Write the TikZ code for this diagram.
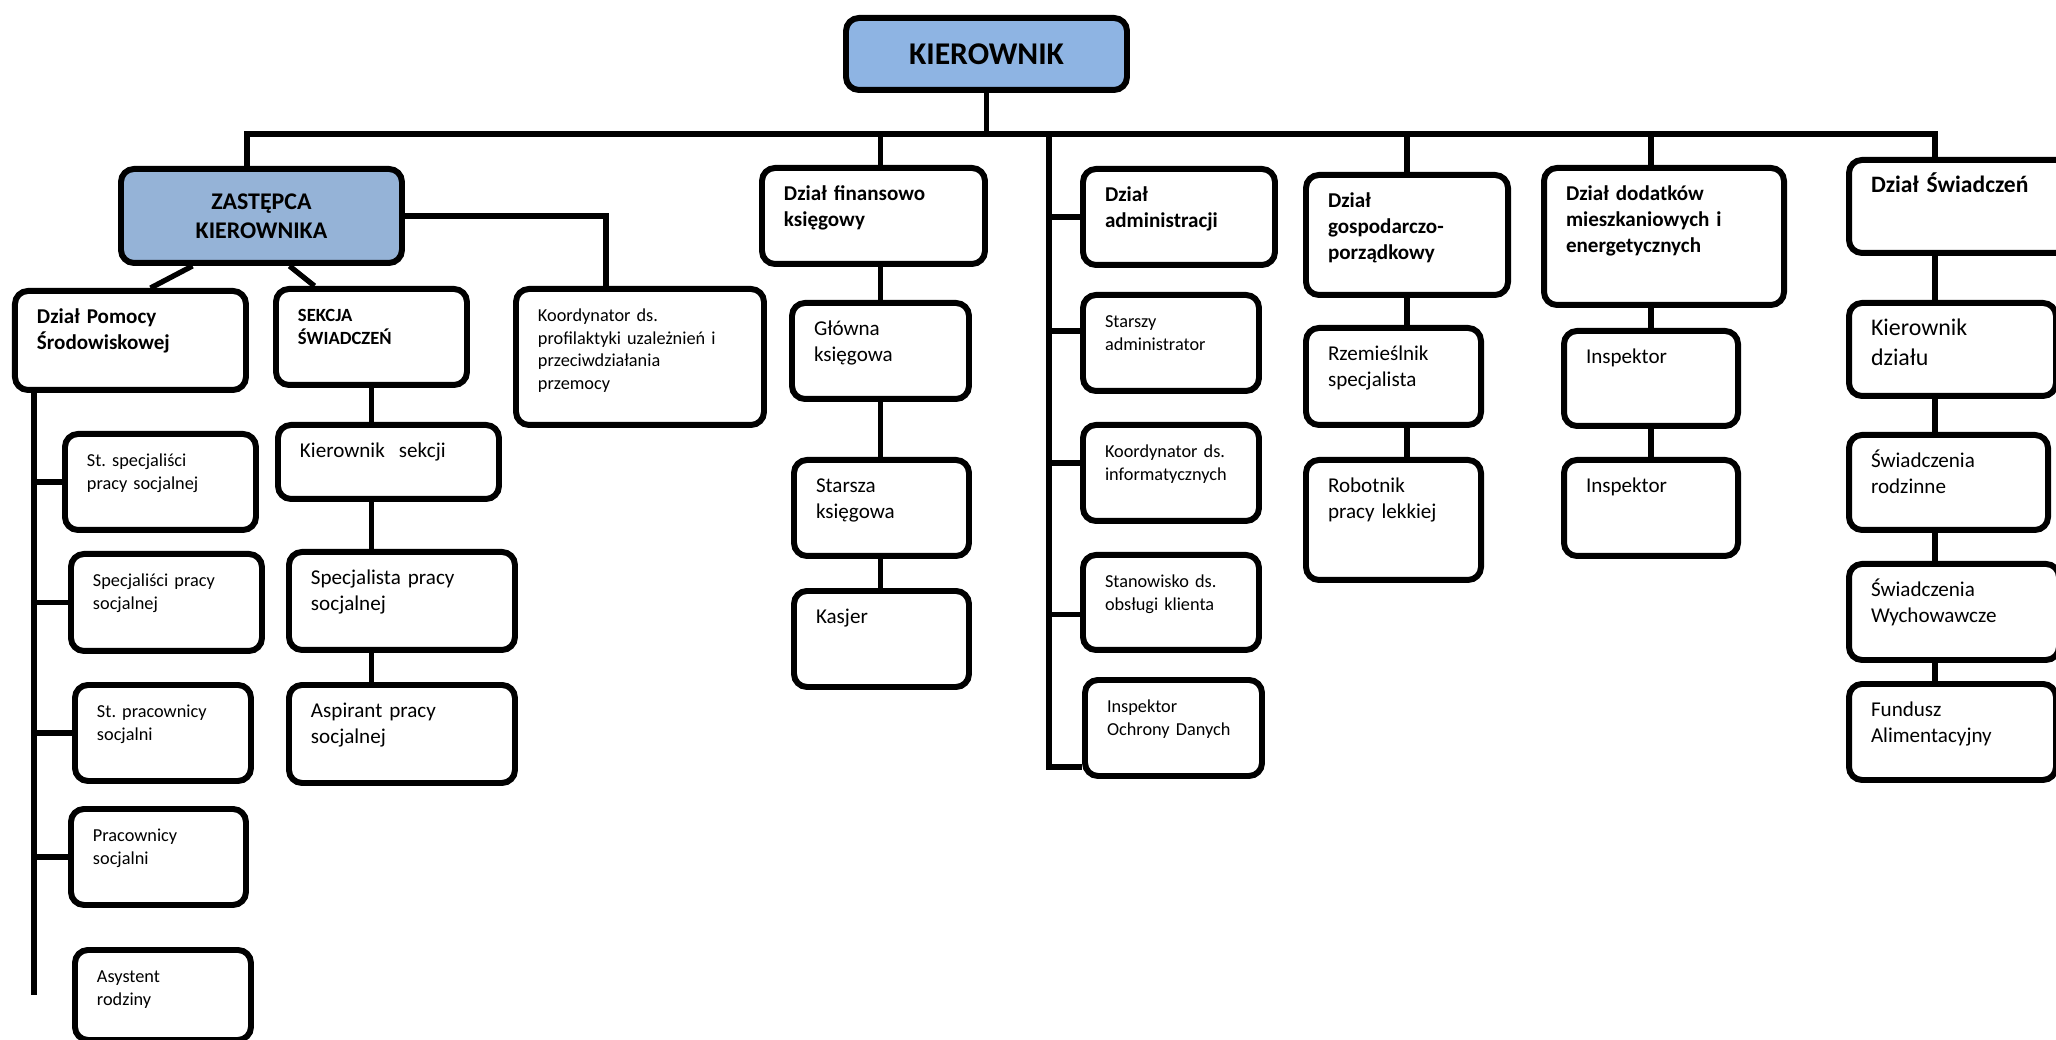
\documentclass[tikz,border=0pt]{standalone}
\usepackage{fontspec}
\setmainfont{Carlito}
\frenchspacing
\usepackage{tikz}
\usetikzlibrary{backgrounds}
\definecolor{kierblue}{RGB}{142,180,227}
\definecolor{zastblue}{RGB}{149,179,215}
\tikzset{
    box/.style={rectangle, draw=black, line width=1.7pt, rounded corners=0.13cm, fill=white, align=left, inner xsep=0.22cm, inner ysep=0.15cm, text height=0.18cm, anchor=north west},
    unit/.style 2 args={box, text width=#1cm-0.44cm, text depth=#2cm-0.48cm},
    chief/.style={rectangle, draw=black, line width=1.7pt, rounded corners=0.13cm, align=center, anchor=north west, inner sep=0pt},
    head/.style={font=\fontsize{6}{7.3}\selectfont\bfseries},
    job/.style={font=\fontsize{6}{7.4}\selectfont},
    small/.style={font=\fontsize{5.2}{6.4}\selectfont},
    link/.style={line width=1.5pt}
}
\begin{document}
\begin{tikzpicture}
    \useasboundingbox (0,0) rectangle (20.56,-10.40);

    % Kierownictwo
    \node (kier) [chief, fill=kierblue, minimum width=2.81cm, minimum height=0.72cm, font=\fontsize{9}{11}\selectfont\bfseries] at (8.43,-0.15) {KIEROWNIK};
    \node (zast) [chief, fill=zastblue, minimum width=2.81cm, minimum height=0.94cm, font=\fontsize{6.8}{8.3}\selectfont\bfseries] at (1.18,-1.66) {ZASTĘPCA\\KIEROWNIKA};

    % Pod zastepca
    \node (dps) [unit={2.31}{0.99}, head] at (0.12,-2.88) {Dział Pomocy\\Środowiskowej};
    \node (sekcja) [unit={1.91}{0.96}, font=\fontsize{5.3}{6.3}\selectfont\bfseries] at (2.73,-2.86) {SEKCJA\\ŚWIADCZEŃ};
    \node (kpu) [unit={2.48}{1.36}, small] at (5.13,-2.86) {Koordynator ds.\\profilaktyki uzależnień i\\przeciwdziałania\\przemocy};

    % Dzial Pomocy Srodowiskowej
    \node (ssp) [unit={1.91}{0.96}, small] at (0.62,-4.31) {St. specjaliści\\pracy socjalnej};
    \node (sp) [unit={1.91}{0.97}, small] at (0.68,-5.51) {Specjaliści pracy\\socjalnej};
    \node (spr) [unit={1.76}{0.96}, small] at (0.72,-6.82) {St. pracownicy\\socjalni};
    \node (pr) [unit={1.75}{0.96}, small] at (0.68,-8.06) {Pracownicy\\socjalni};
    \node (ar) [unit={1.76}{0.90}, small] at (0.72,-9.47) {Asystent\\rodziny};

    % Sekcja swiadczen
    \node (ks) [unit={2.21}{0.74}, job] at (2.75,-4.22) {Kierownik\ \ sekcji};
    \node (sps) [unit={2.26}{0.98}, job] at (2.86,-5.49) {Specjalista pracy\\socjalnej};
    \node (asp) [unit={2.26}{0.98}, job] at (2.86,-6.82) {Aspirant pracy\\socjalnej};

    % Dzial finansowo ksiegowy
    \node (dfk) [unit={2.23}{0.96}, head] at (7.59,-1.65) {Dział finansowo\\księgowy};
    \node (gk) [unit={1.77}{0.96}, job] at (7.89,-3.00) {Główna\\księgowa};
    \node (sk) [unit={1.75}{0.96}, job] at (7.91,-4.57) {Starsza\\księgowa};
    \node (kasjer) [unit={1.75}{0.96}, job] at (7.91,-5.88) {Kasjer};

    % Dzial administracji
    \node (dadm) [unit={1.92}{0.96}, head] at (10.80,-1.66) {Dział\\administracji};
    \node (sadm) [unit={1.76}{0.96}, small] at (10.80,-2.92) {Starszy\\administrator};
    \node (kinf) [unit={1.76}{0.96}, small] at (10.80,-4.22) {Koordynator~ds.\\informatycznych};
    \node (sobk) [unit={1.76}{0.95}, small] at (10.80,-5.52) {Stanowisko ds.\\obsługi klienta};
    \node (iod) [unit={1.77}{0.96}, small] at (10.82,-6.77) {Inspektor\\Ochrony~Danych};

    % Dzial gospodarczo-porzadkowy
    \node (dgp) [unit={2.02}{1.20}, head] at (13.03,-1.72) {Dział\\gospodarczo-\\porządkowy};
    \node (rzem) [unit={1.75}{0.97}, job] at (13.03,-3.25) {Rzemieślnik\\specjalista};
    \node (rob) [unit={1.75}{1.20}, job] at (13.03,-4.57) {Robotnik\\pracy lekkiej};

    % Dzial dodatkow
    \node (ddm) [unit={2.40}{1.37}, head] at (15.41,-1.65) {Dział dodatków\\mieszkaniowych i\\energetycznych};
    \node (insp1) [unit={1.74}{0.95}, job] at (15.61,-3.28) {Inspektor};
    \node (insp2) [unit={1.74}{0.96}, job] at (15.61,-4.57) {Inspektor};

    % Dzial swiadczen
    \node (dsw) [unit={2.20}{0.93}, font=\fontsize{6.7}{8.2}\selectfont\bfseries] at (18.46,-1.57) {Dział Świadczeń};
    \node (kd) [unit={2.07}{0.93}, font=\fontsize{6.8}{8.4}\selectfont] at (18.46,-3.00) {Kierownik\\działu};
    \node (sr) [unit={1.99}{0.95}, job] at (18.46,-4.32) {Świadczenia\\rodzinne};
    \node (sw) [unit={2.10}{0.96}, job] at (18.46,-5.61) {Świadczenia\\Wychowawcze};
    \node (fa) [unit={2.07}{0.96}, job] at (18.46,-6.81) {Fundusz\\Alimentacyjny};

    % Polaczenia
    \begin{scope}[on background layer]
        \coordinate (busL) at (2.47,-1.34);
        \coordinate (busR) at (19.35,-1.34);
        \coordinate (admx) at (10.49,-1.34);
        \coordinate (dpsx) at ([xshift=0.22cm]dps.south west);

        \draw [link] (kier) -- (kier |- busL);
        \draw [link] (busL |- zast.north) -- (busL) -- (busR) -- (busR |- fa.north);

        \draw [link] ([xshift=-0.69cm]zast.south) -- ([xshift=0.2cm]dps.north);
        \draw [link] ([xshift=0.28cm]zast.south) -- ([xshift=-0.57cm]sekcja.north);
        \draw [link] (zast.east) -| ([xshift=-0.34cm]kpu.north);

        \draw [link] (dpsx) -- (dpsx |- ar.west);
        \foreach \n in {ssp, sp, spr, pr}
            \draw [link] (\n.west -| dpsx) -- (\n.west);
        \draw [link] (sekcja.south) -- (sekcja.south |- asp.north);

        \draw [link] (gk.north |- busL) -- (gk.north |- kasjer.north);

        \draw [link] (admx) |- ([yshift=0.12cm]iod.south west);
        \draw [link] (dadm.west -| admx) -- (dadm.west);
        \draw [link] ([yshift=0.12cm]sadm.west -| admx) -- ([yshift=0.12cm]sadm.west);
        \draw [link] ([yshift=0.10cm]kinf.west -| admx) -- ([yshift=0.10cm]kinf.west);
        \draw [link] ([yshift=-0.12cm]sobk.west -| admx) -- ([yshift=-0.12cm]sobk.west);

        \draw [link] (dgp.north |- busL) -- (dgp.north |- rob.north);
        \draw [link] (insp1.north |- busL) -- (insp2.north);
    \end{scope}
\end{tikzpicture}
\end{document}
